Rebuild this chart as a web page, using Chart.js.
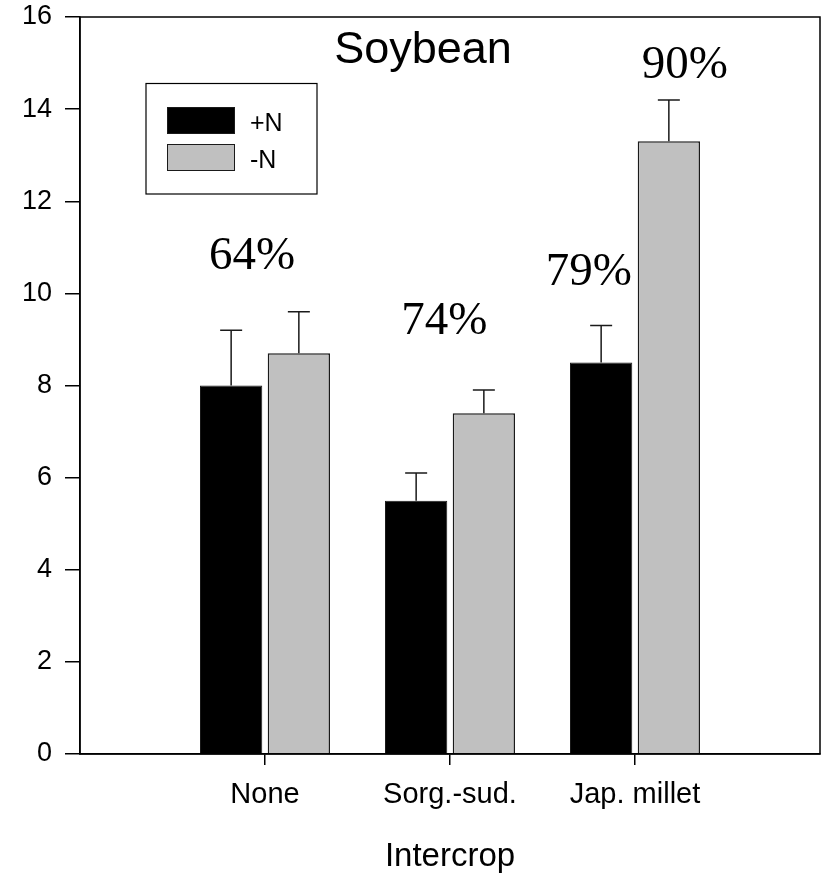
<!DOCTYPE html>
<html>
<head>
<meta charset="utf-8">
<script src="https://cdn.jsdelivr.net/npm/chart.js@4/dist/chart.umd.min.js"></script>
<style>
  html, body { margin: 0; padding: 0; background: #fff; }
  #wrap { width: 823px; height: 877px; }
</style>
</head>
<body>
<div id="wrap"><canvas id="chartSoja"></canvas></div>
<script>
const categorias = ['None', 'Sorg.-sud.', 'Jap. millet'];
const comN = [8.0, 5.5, 8.5];
const semN = [8.7, 7.4, 13.3];
const erroComN = [1.2, 0.6, 0.8];
const erroSemN = [0.9, 0.5, 0.9];
const yTicks = [0, 2, 4, 6, 8, 10, 12, 14, 16];

// percent notes, placed in data units (x = category index, y = value)
const notasTexto = ['64%', '74%', '79%', '90%'];
const notasX = [0.93, 1.97, 2.75, 3.27];
const notasY = [10.53, 9.12, 10.18, 14.67];

// empty slot on each side so the categories sit at 1, 2, 3
const rotulos = ['', ...categorias, ''];
const pad = arr => [null, ...arr, null];

const sojaData = {
    labels: rotulos,
    datasets: [{
        label: '+N',
        data: pad(comN),
        erros: pad(erroComN),
        backgroundColor: '#000000',
        borderColor: '#1a1a1a',
        borderWidth: 1
    },
    {
        label: '-N',
        data: pad(semN),
        erros: pad(erroSemN),
        backgroundColor: '#c0c0c0',
        borderColor: '#1a1a1a',
        borderWidth: 1.5
    }]
};

const moldura = {
    id: 'moldura',
    afterDraw(chart) {
        const { ctx, chartArea: a } = chart;
        ctx.save();
        ctx.strokeStyle = '#000';
        ctx.lineWidth = 1.5;
        ctx.strokeRect(a.left, a.top, a.right - a.left, a.bottom - a.top);
        ctx.restore();
    }
};

const barrasErro = {
    id: 'barrasErro',
    afterDatasetsDraw(chart) {
        const { ctx } = chart;
        const y = chart.scales.y;
        ctx.save();
        ctx.strokeStyle = '#1a1a1a';
        ctx.lineWidth = 1.5;
        chart.data.datasets.forEach((ds, di) => {
            const meta = chart.getDatasetMeta(di);
            meta.data.forEach((bar, i) => {
                const v = ds.data[i];
                if (v == null) return;
                const top = y.getPixelForValue(v + ds.erros[i]);
                const base = y.getPixelForValue(v);
                ctx.beginPath();
                ctx.moveTo(bar.x, base);
                ctx.lineTo(bar.x, top);
                ctx.moveTo(bar.x - 11, top);
                ctx.lineTo(bar.x + 11, top);
                ctx.stroke();
            });
        });
        ctx.restore();
    }
};

const textos = {
    id: 'textos',
    afterDraw(chart) {
        const { ctx, scales: { x, y } } = chart;
        ctx.save();
        ctx.fillStyle = '#000';
        ctx.textAlign = 'center';
        ctx.textBaseline = 'alphabetic';
        ctx.font = '47px "Liberation Serif"';
        notasTexto.forEach((t, i) => {
            ctx.fillText(t, x.getPixelForValue(notasX[i]), y.getPixelForValue(notasY[i]));
        });

        ctx.font = '45px "Liberation Sans"';
        ctx.fillText('Soybean', 423, 63);

        // legend box
        ctx.lineWidth = 1.2;
        ctx.strokeStyle = '#000';
        ctx.strokeRect(146, 83.5, 171, 110.5);
        ctx.textAlign = 'left';
        ctx.font = '25px "Liberation Sans"';
        chart.data.datasets.forEach((ds, i) => {
            const top = 107 + i * 37;
            ctx.fillStyle = ds.backgroundColor;
            ctx.fillRect(167, top, 67, 26);
            ctx.strokeStyle = '#1a1a1a';
            ctx.lineWidth = 1;
            ctx.strokeRect(167.5, top + 0.5, 67, 26);
            ctx.fillStyle = '#000';
            ctx.fillText(ds.label, 250, top + 24);
        });
        ctx.restore();
    }
};

const ctxSoja = document.getElementById('chartSoja').getContext('2d');
const chartSoja = new Chart(ctxSoja, {
    type: 'bar',
    data: sojaData,
    plugins: [moldura, barrasErro, textos],
    options: {
        responsive: true,
        maintainAspectRatio: false,
        animation: false,
        categoryPercentage: 0.732,
        barPercentage: 0.92,
        layout: { padding: { top: 17, right: 3, left: 0, bottom: 0 } },
        plugins: {
            legend: { display: false },
            tooltip: { enabled: false }
        },
        scales: {
            x: {
                offset: false,
                grid: {
                    offset: false,
                    drawOnChartArea: false,
                    tickLength: 11,
                    lineWidth: 1.5,
                    tickColor: c => (c.index > 0 && c.index < rotulos.length - 1) ? '#000' : 'rgba(0,0,0,0)'
                },
                border: { color: '#000', width: 1.5 },
                ticks: {
                    color: '#000',
                    font: { family: 'Liberation Sans', size: 29 },
                    padding: 13,
                    maxRotation: 0,
                    autoSkip: false
                },
                title: {
                    display: true,
                    text: 'Intercrop',
                    color: '#000',
                    font: { family: 'Liberation Sans', size: 33 },
                    padding: { top: 0, bottom: 0 }
                },
                afterFit: s => {
                    s.height = 123;
                    s.paddingLeft = 0;
                    s.paddingRight = 0;
                }
            },
            y: {
                min: 0,
                max: 16,
                afterBuildTicks: s => { s.ticks = yTicks.map(v => ({ value: v })); },
                grid: {
                    drawOnChartArea: false,
                    tickLength: 15,
                    color: '#000',
                    lineWidth: 1.5
                },
                border: { color: '#000', width: 1.5 },
                ticks: {
                    color: '#000',
                    font: { family: 'Liberation Sans', size: 27 },
                    padding: 13
                },
                afterFit: s => {
                    s.width = 80;
                    s.paddingTop = 0;
                    s.paddingBottom = 0;
                }
            }
        }
    }
});
</script>
</body>
</html>
